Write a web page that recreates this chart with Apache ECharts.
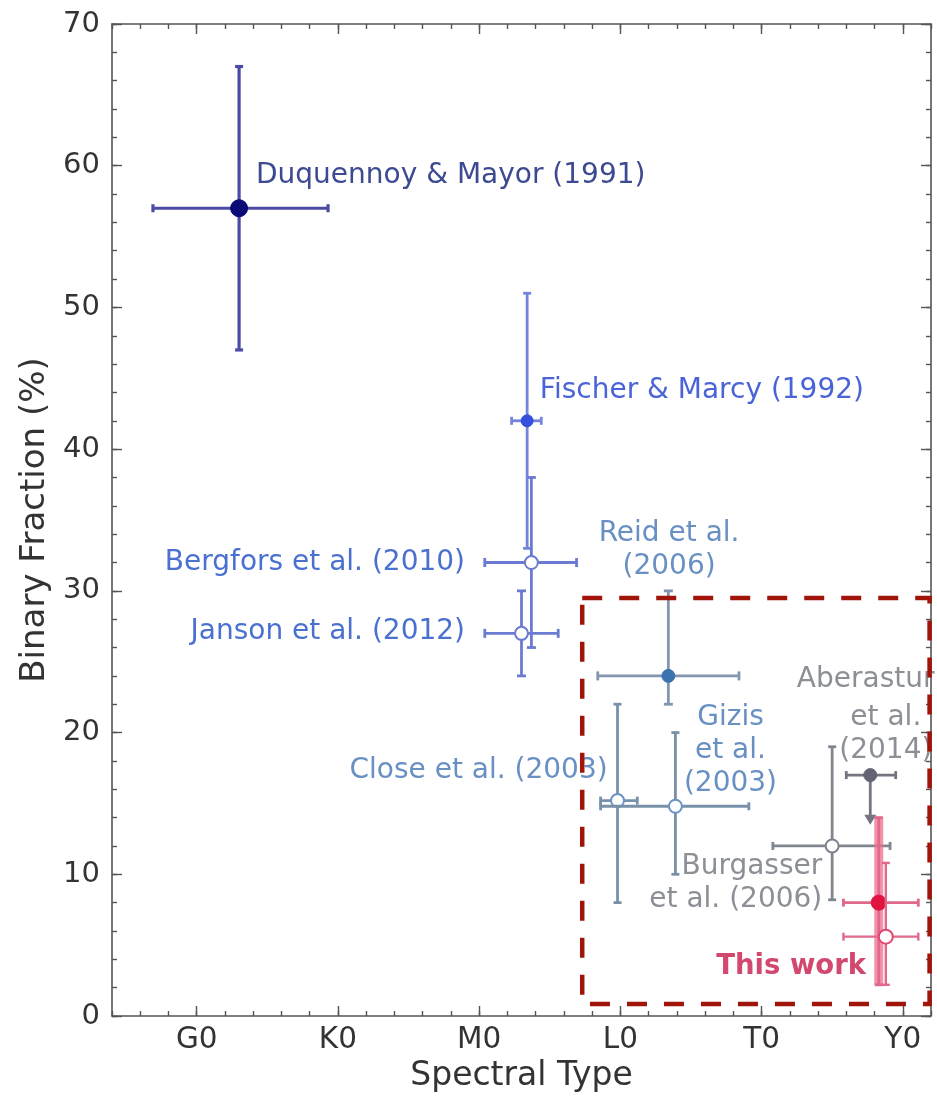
<!DOCTYPE html>
<html>
<head>
<meta charset="utf-8">
<title>Binary fraction vs spectral type</title>
<script src="https://cdn.jsdelivr.net/npm/echarts@6/dist/echarts.min.js"></script>
<style>
  html, body { margin: 0; padding: 0; background: #ffffff; }
  #chart { width: 937px; height: 1099px; }
</style>
</head>
<body>
<div id="chart"></div>
<script>
// Spectral type is numeric: G0 = 0, K0 = 10, M0 = 20, L0 = 30, T0 = 40, Y0 = 50
const spectralTickValues = [0, 10, 20, 30, 40, 50];
const spectralTickNames = ['G0', 'K0', 'M0', 'L0', 'T0', 'Y0'];

const studies = [
  'Duquennoy & Mayor (1991)',
  'Fischer & Marcy (1992)',
  'Bergfors et al. (2010)',
  'Janson et al. (2012)',
  'Reid et al. (2006)',
  'Close et al. (2003)',
  'Gizis et al. (2003)',
  'Aberasturi et al. (2014)',
  'Burgasser et al. (2006)',
  'This work (resolved)',
  'This work (total)'
];
const spType     = [3.0, 23.4, 23.7, 23.0, 33.4, 29.8, 33.9, 47.7, 45.0, 48.3, 48.8];
const spTypeLow  = [-3.1, 22.3, 20.4, 20.4, 28.4, 28.6, 28.6, 46.0, 40.8, 45.8, 45.8];
const spTypeHigh = [9.3, 24.4, 26.9, 25.6, 38.4, 31.2, 39.1, 49.5, 49.1, 51.1, 51.1];
const binFrac     = [57, 42, 32, 27, 24, 15.2, 14.8, 17, 12, 8, 5.6];
const binFracLow  = [47, 33, 26, 24, 22, 8, 10, 13.5, 8.2, 2.2, 2.2];
const binFracHigh = [67, 51, 38, 30, 30, 22, 20, 17, 19, 14, 10.8];
// Aberasturi et al. give an upper limit only
const upperLimit = [false, false, false, false, false, false, false, true, false, false, false];

// Label text and anchor (spectral type, binary fraction)
const labelText = [
  'Duquennoy & Mayor (1991)',
  'Fischer & Marcy (1992)',
  'Bergfors et al. (2010)',
  'Janson et al. (2012)',
  'Reid et al.\n(2006)',
  'Close et al. (2003)',
  'Gizis\net al.\n(2003)',
  'Aberasturi',
  'et al.\n(2014)',
  'Burgasser\net al. (2006)',
  'This work'
];
const labelAnchor = [
  [4.2, 59.3], [24.3, 44.1], [19.0, 32.0], [19.0, 27.1], [33.45, 32.85],
  [29.1, 17.3], [37.8, 18.7], [42.5, 23.75], [48.8, 19.9], [44.3, 9.4], [47.4, 3.45]
];
const labelAlign = ['left', 'left', 'right', 'right', 'center', 'right', 'center', 'left', 'center', 'right', 'right'];

// Highlighted region (spectral type range, binary fraction range)
const boxSpType = [27.3, 51.9];
const boxBinFrac = [0.85, 29.5];

// Styling per study
const markStyle = [
  { bar: '#4b4ba6', mark: '#0b0b78', open: false, r: 8.5, lw: 3.2, cap: 8 },
  { bar: '#7484dc', mark: '#3550dc', open: false, r: 6, lw: 2.8, cap: 8 },
  { bar: '#6b7bd2', mark: '#6b7bd2', open: true, r: 6.5, lw: 2.8, cap: 9 },
  { bar: '#6b7bd2', mark: '#6b7bd2', open: true, r: 6.5, lw: 2.8, cap: 9 },
  { bar: '#8296b0', mark: '#3c72b0', open: false, r: 6.5, lw: 2.8, cap: 9 },
  { bar: '#7890a8', mark: '#6a92c2', open: true, r: 6.5, lw: 2.8, cap: 8 },
  { bar: '#7890a8', mark: '#6a92c2', open: true, r: 6.5, lw: 2.8, cap: 8 },
  { bar: '#737680', mark: '#626472', open: false, r: 6.5, lw: 2.8, cap: 8 },
  { bar: '#80868f', mark: '#7c828c', open: true, r: 6.5, lw: 2.8, cap: 8 },
  { bar: '#e0688a', mark: '#e0143e', open: false, r: 7.5, lw: 2.8, cap: 8, band: 'rgba(240,110,140,0.75)', bandW: 9 },
  { bar: '#e0688a', mark: '#e04a72', open: true, r: 7, lw: 2.4, cap: 8 }
];
const labelColor = ['#3d4a92', '#4a64d8', '#4a70d0', '#4a70d0', '#6890c2', '#6890c2', '#6890c2',
  '#8c8f96', '#8c8f96', '#8c8f96', '#d2486e'];

const FONT = '"DejaVu Sans", "Liberation Sans", sans-serif';

const points = studies.map((s, i) => [spType[i], spTypeLow[i], spTypeHigh[i], binFrac[i], binFracLow[i], binFracHigh[i]]);

function renderErrorBar(params, api) {
  const i = params.dataIndex;
  const st = markStyle[i];
  const x = api.value(0), xl = api.value(1), xh = api.value(2);
  const y = api.value(3), yl = api.value(4), yh = api.value(5);
  const c = api.coord([x, y]);
  const pxl = api.coord([xl, y]);
  const pxh = api.coord([xh, y]);
  const pyl = api.coord([x, yl]);
  const pyh = api.coord([x, yh]);
  const h = st.cap / 2;
  const line = { stroke: st.bar, lineWidth: st.lw, lineCap: 'butt' };
  const children = [];
  if (st.band) {
    children.push({ type: 'line', shape: { x1: pyl[0], y1: pyl[1], x2: pyh[0], y2: pyh[1] },
      style: { stroke: st.band, lineWidth: st.bandW } });
  }
  // horizontal bar with caps
  children.push({ type: 'line', shape: { x1: pxl[0], y1: c[1], x2: pxh[0], y2: c[1] }, style: line });
  children.push({ type: 'line', shape: { x1: pxl[0], y1: c[1] - h, x2: pxl[0], y2: c[1] + h }, style: line });
  children.push({ type: 'line', shape: { x1: pxh[0], y1: c[1] - h, x2: pxh[0], y2: c[1] + h }, style: line });
  if (upperLimit[i]) {
    // downward arrow to the limit
    children.push({ type: 'line', shape: { x1: c[0], y1: c[1], x2: pyl[0], y2: pyl[1] - 6 }, style: line });
    children.push({ type: 'polygon', shape: { points: [[pyl[0] - 6, pyl[1] - 10], [pyl[0] + 6, pyl[1] - 10], [pyl[0], pyl[1]]] },
      style: { fill: st.bar } });
  } else {
    children.push({ type: 'line', shape: { x1: pyl[0], y1: pyl[1], x2: pyh[0], y2: pyh[1] }, style: line });
    children.push({ type: 'line', shape: { x1: pyl[0] - h, y1: pyl[1], x2: pyl[0] + h, y2: pyl[1] }, style: line });
    children.push({ type: 'line', shape: { x1: pyh[0] - h, y1: pyh[1], x2: pyh[0] + h, y2: pyh[1] }, style: line });
  }
  children.push({ type: 'circle', shape: { cx: c[0], cy: c[1], r: st.r },
    style: st.open ? { fill: '#ffffff', stroke: st.mark, lineWidth: 2 } : { fill: st.mark, stroke: st.mark, lineWidth: 1 } });
  return { type: 'group', children: children };
}

function renderLabel(params, api) {
  const i = params.dataIndex;
  const p = api.coord([api.value(0), api.value(1)]);
  const bold = i === labelText.length - 1;
  return {
    type: 'text',
    x: p[0], y: p[1],
    style: {
      text: labelText[i],
      fill: labelColor[i],
      font: (bold ? 'bold 27.5px ' : '28px ') + FONT,
      align: labelAlign[i],
      verticalAlign: 'middle',
      lineHeight: 33
    }
  };
}

function renderBox(params, api) {
  const a = api.coord([boxSpType[0], boxBinFrac[1]]);
  const b = api.coord([boxSpType[1], boxBinFrac[0]]);
  return {
    type: 'rect',
    shape: { x: a[0], y: a[1], width: b[0] - a[0], height: b[1] - a[1] },
    style: { fill: 'none', stroke: '#a0140a', lineWidth: 4.5, lineDash: [20, 17] }
  };
}

const AX = '#555555';
const TICKTXT = '#333333';

function xAxisDef(position, major, withLabels) {
  const def = {
    type: 'value', min: -6, max: 52, position: position,
    axisLine: { show: major, onZero: false, lineStyle: { color: AX, width: 1.6 } },
    splitLine: { show: false },
    axisTick: { show: true, inside: true, length: major ? 10 : 5, lineStyle: { color: AX, width: 1.4 } },
    axisLabel: { show: false }
  };
  if (major) {
    def.axisTick.customValues = spectralTickValues;
    if (withLabels) {
      def.axisLabel = {
        show: true, customValues: spectralTickValues, margin: 9,
        color: TICKTXT, fontSize: 29.5, fontFamily: FONT,
        formatter: v => spectralTickNames[spectralTickValues.indexOf(v)] || ''
      };
      def.name = 'Spectral Type';
      def.nameLocation = 'middle';
      def.nameGap = 44;
      def.nameTextStyle = { color: TICKTXT, fontSize: 33, fontFamily: FONT };
    }
  } else {
    def.interval = 2;
  }
  return def;
}

function yAxisDef(position, major, withLabels) {
  const def = {
    type: 'value', min: 0, max: 70, interval: major ? 10 : 2, position: position,
    axisLine: { show: major, onZero: false, lineStyle: { color: AX, width: 1.6 } },
    splitLine: { show: false },
    axisTick: { show: true, inside: true, length: major ? 10 : 5, lineStyle: { color: AX, width: 1.4 } },
    axisLabel: { show: false }
  };
  if (withLabels) {
    def.axisLabel = { show: true, margin: 12, color: TICKTXT, fontSize: 29, fontFamily: FONT };
    def.name = 'Binary Fraction (%)';
    def.nameLocation = 'middle';
    def.nameGap = 46;
    def.nameTextStyle = { color: TICKTXT, fontSize: 34, fontFamily: FONT };
  }
  return def;
}

const chart = echarts.init(document.getElementById('chart'), null, { renderer: 'canvas' });
chart.setOption({
  animation: false,
  backgroundColor: '#ffffff',
  grid: { left: 112, top: 24, right: 6, bottom: 83, containLabel: false },
  xAxis: [
    xAxisDef('bottom', true, true),
    xAxisDef('bottom', false, false),
    xAxisDef('top', true, false),
    xAxisDef('top', false, false)
  ],
  yAxis: [
    yAxisDef('left', true, true),
    yAxisDef('left', false, false),
    yAxisDef('right', true, false),
    yAxisDef('right', false, false)
  ],
  series: [
    {
      type: 'custom', name: 'measurements', xAxisIndex: 0, yAxisIndex: 0,
      renderItem: renderErrorBar, data: points, clip: false, z: 3,
      encode: { x: [0, 1, 2], y: [3, 4, 5] }
    },
    {
      type: 'custom', name: 'labels', xAxisIndex: 0, yAxisIndex: 0,
      renderItem: renderLabel, data: labelAnchor, clip: false, z: 4,
      encode: { x: 0, y: 1 }
    },
    {
      type: 'custom', name: 'region', xAxisIndex: 0, yAxisIndex: 0,
      renderItem: renderBox, data: [[boxSpType[0], boxBinFrac[0]]], clip: false, z: 5
    }
  ]
});
</script>
</body>
</html>
